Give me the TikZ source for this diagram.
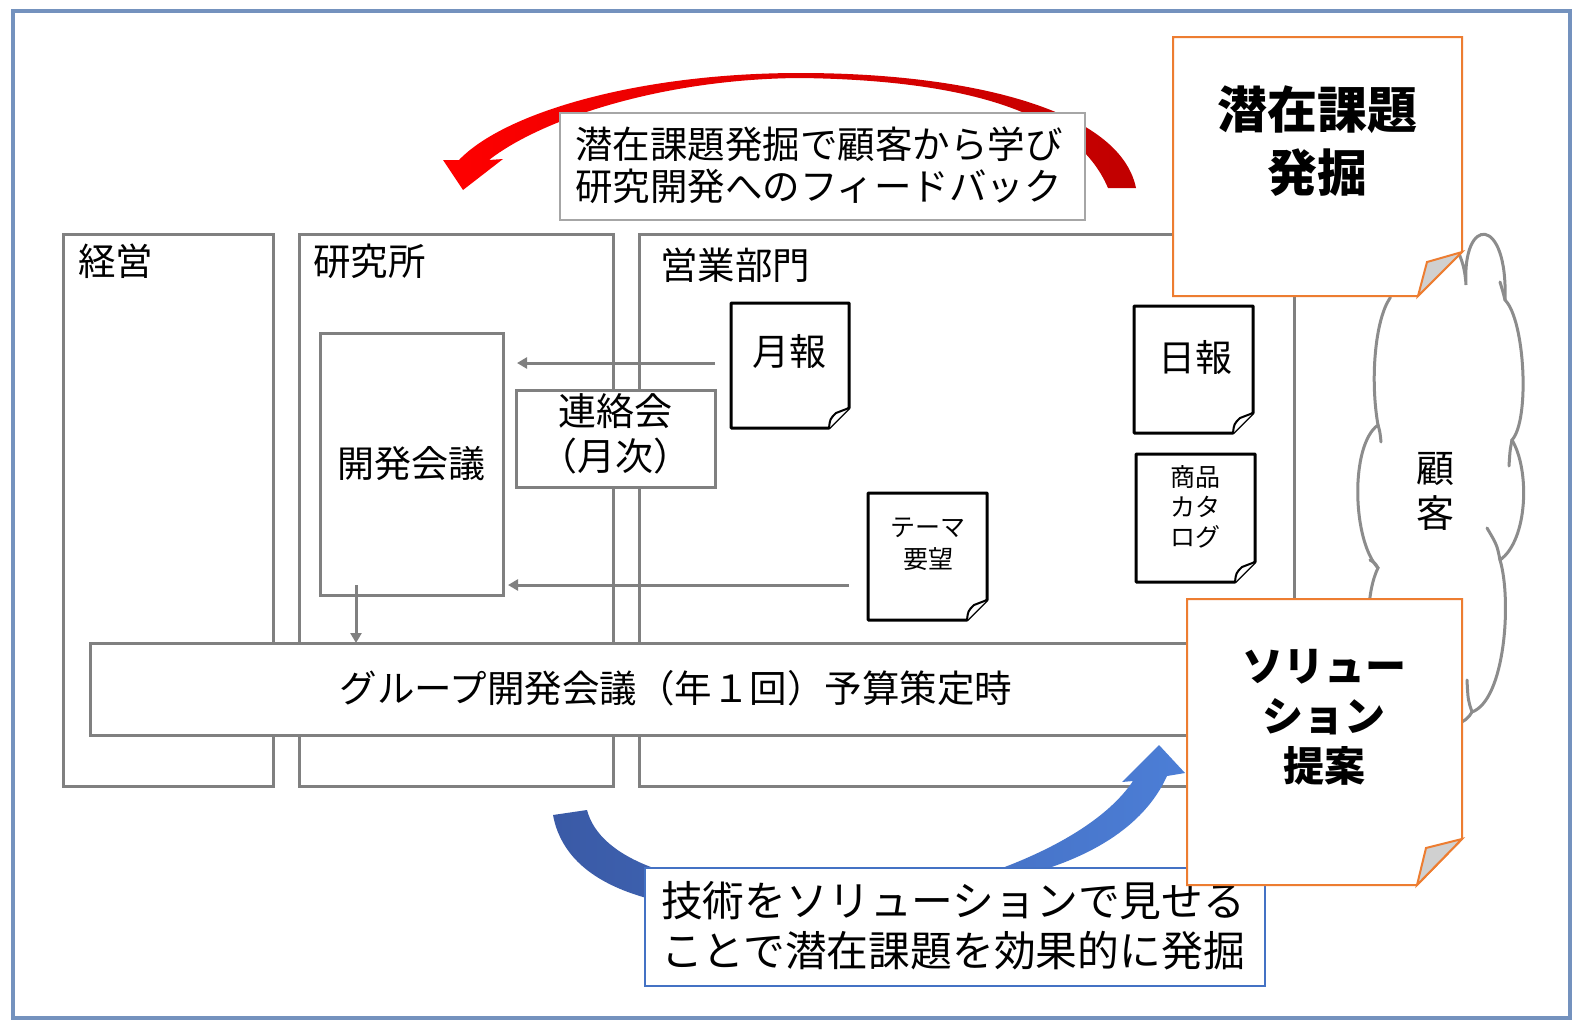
\documentclass[tikz,border=0pt]{standalone}
\usepackage{fontspec}
\newfontfamily\cjk{Noto Sans CJK JP}
\usetikzlibrary{arrows.meta}
\definecolor{boxgray}{RGB}{128,128,128}
\definecolor{framebl}{RGB}{116,146,190}
\definecolor{orangeln}{RGB}{237,125,49}
\definecolor{foldgray}{RGB}{208,208,208}
\definecolor{cloudgray}{RGB}{140,140,140}
\definecolor{redL}{RGB}{255,0,0}
\definecolor{redR}{RGB}{192,0,0}
\definecolor{blueL}{RGB}{58,90,166}
\definecolor{blueR}{RGB}{76,126,214}
\definecolor{bluebox}{RGB}{68,114,196}
\definecolor{lightgrayln}{RGB}{166,166,166}
\newcommand{\setfs}[2]{\fontsize{#1pt}{#2pt}\selectfont}
\newcommand{\docoutline}[1]{%
  \draw[docline, fill=white] (#1.north west) -- (#1.north east) -- ([yshift=20pt]#1.south east) -- ([xshift=-20pt]#1.south east) -- (#1.south west) -- cycle;
  \draw[docline, line width=2pt, fill=white] ([xshift=-20pt]#1.south east) .. controls ([xshift=-19pt,yshift=9pt]#1.south east) .. ([xshift=-13pt,yshift=15pt]#1.south east) -- ([yshift=20pt]#1.south east);
}
\begin{document}
\begin{tikzpicture}[x=1pt,y=-1pt,
  every node/.style={font=\cjk, inner sep=0pt, outer sep=0pt, text=black},
  grayframe/.style={draw=boxgray, line width=3pt, fill=white, rectangle},
  docfill/.style={fill=white, draw=none, rectangle},
  docline/.style={draw=black, line width=3pt, line join=round},
  orangeline/.style={draw=orangeln, line width=2pt, line join=miter},
  grayarrow/.style={draw=boxgray, line width=3pt, -{Triangle[length=10pt,width=11pt]}},
  lbl/.style={anchor=west, font=\cjk\setfs{37.5}{44}},
  cloudline/.style={draw=cloudgray, line width=3pt, line cap=round},
]
\useasboundingbox (0,0) rectangle (1588,1036);
\fill[white] (0,0) rectangle (1588,1036);

% outer frame
\node[draw=framebl, line width=3.5pt, anchor=north west, minimum width=1557pt, minimum height=1007pt] (frame) at (13,11) {};

% big boxes
\node[grayframe, anchor=north west, minimum width=210pt, minimum height=552pt] (keiei) at (63,234) {};
\node[grayframe, anchor=north west, minimum width=314pt, minimum height=552pt] (kenkyu) at (299,234) {};
\node[grayframe, anchor=north west, minimum width=655pt, minimum height=552pt] (eigyo) at (639,234) {};
\node[lbl] (keiei-l) at (78,261) {経営};
\node[lbl] (kenkyu-l) at (313,261) {研究所};
\node[lbl] (eigyo-l) at (660,265) {営業部門};

% development meeting
\node[grayframe, anchor=north west, minimum width=183pt, minimum height=262pt, font=\cjk\setfs{37}{44}] (kaihatsu) at (320,333) {開発会議};

% liaison meeting
\node[grayframe, anchor=north west, minimum width=199pt, minimum height=97pt] (renraku) at (516,390) {};
\node[font=\cjk\setfs{38}{45}, align=center] (renraku-t) at (615,434) {連絡会\\（月次）};

% documents
\node[docfill, anchor=north west, minimum width=118pt, minimum height=125pt] (geppo) at (731,303) {};
\docoutline{geppo}
\node[font=\cjk\setfs{37}{44}] (geppo-t) at (789,351) {月報};

\node[docfill, anchor=north west, minimum width=119pt, minimum height=127pt] (theme) at (868,493) {};
\docoutline{theme}
\node[font=\cjk\setfs{25}{32}, align=center] (theme-t) at (928,544) {テーマ\\要望};

\node[docfill, anchor=north west, minimum width=119pt, minimum height=127pt] (nippo) at (1134,306) {};
\docoutline{nippo}
\node[font=\cjk\setfs{37}{44}] (nippo-t) at (1195,357) {日報};

\node[docfill, anchor=north west, minimum width=119pt, minimum height=128pt] (catalog) at (1136,454) {};
\docoutline{catalog}
\node[font=\cjk\setfs{25}{30}, align=center] (catalog-t) at (1195,507) {商品\\カタ\\ログ};

% gray arrows
\coordinate (a1s) at (715,363);
\draw[grayarrow] (a1s) -- ([xshift=14pt]kaihatsu.east |- a1s);
\coordinate (a2s) at (849,585);
\draw[grayarrow] (a2s) -- ([xshift=5pt]kaihatsu.east |- a2s);

% group bar
\node[grayframe, anchor=north west, minimum width=1100pt, minimum height=92pt] (group) at (90,643) {};
\node[font=\cjk\setfs{37.5}{44}] (group-t) at (676,688) {グループ開発会議（年１回）予算策定時};
\coordinate (a3s) at (356,585);
\draw[grayarrow] (a3s) -- (a3s |- group.north);

% red curved arrow
\shade[left color=redL, right color=redR]
  (1136,188) .. controls (1120,110) and (970,73) .. (800,73)
  .. controls (640,73) and (505,112) .. (459,160)
  -- (443,160) -- (463,190) -- (503,159) -- (489,160)
  .. controls (540,120) and (660,79) .. (800,78)
  .. controls (960,80) and (1075,110) .. (1108,188) -- cycle;
\node[draw=lightgrayln, line width=2pt, fill=white, anchor=north west, minimum width=525pt, minimum height=107pt] (fbbox) at (560,113) {};
\node[anchor=west, align=left, font=\cjk\setfs{37.5}{42}] (fbtext) at (575,165) {潜在課題発掘で顧客から学び\\研究開発へのフィードバック};

% cloud (customers)
\draw[cloudline, fill=white] (1390,298)
  .. controls (1392,215) and (1462,210) .. (1466,285)
  .. controls (1462,215) and (1508,215) .. (1505,300)
  .. controls (1525,320) and (1530,420) .. (1512,440)
  .. controls (1530,470) and (1528,540) .. (1500,560)
  .. controls (1512,600) and (1505,700) .. (1472,712)
  .. controls (1460,735) and (1405,735) .. (1398,690)
  .. controls (1365,680) and (1362,600) .. (1378,568)
  .. controls (1352,540) and (1350,445) .. (1378,425)
  .. controls (1370,380) and (1375,320) .. (1390,298) -- cycle;
\draw[cloudline] (1512,440) .. controls (1510,450) .. (1509,466);
\draw[cloudline] (1500,560) .. controls (1497,545) .. (1487,528);
\draw[cloudline] (1472,712) .. controls (1468,700) .. (1467,680);
\draw[cloudline] (1378,425) .. controls (1380,432) .. (1381,442);
\draw[cloudline] (1378,568) .. controls (1375,563) .. (1370,560);
\draw[cloudline] (1505,300) .. controls (1503,292) .. (1500,282);
\node[font=\cjk\setfs{38}{45}, align=center] (kokyaku) at (1435,491) {顧\\客};

% blue curved arrow
\shade[left color=blueL, right color=blueR]
  (553,815) .. controls (565,880) and (640,910) .. (760,912)
  .. controls (900,912) and (1080,860) .. (1133,781)
  -- (1122,782) -- (1159,745) -- (1185,773) -- (1167,776)
  .. controls (1120,880) and (940,905) .. (780,888)
  .. controls (680,886) and (600,860) .. (587,810) -- cycle;
\node[draw=bluebox, line width=2pt, fill=white, anchor=north west, minimum width=620pt, minimum height=118pt] (solbox) at (645,868) {};
\node[anchor=west, align=left, font=\cjk\setfs{41.8}{50}] (soltext) at (661,926) {技術をソリューションで見せる\\ことで潜在課題を効果的に発掘};

% orange box 1
\node[anchor=north west, minimum width=289pt, minimum height=259pt] (hakkutsu) at (1173,37) {};
\draw[orangeline, fill=white] (hakkutsu.north west) -- (hakkutsu.north east) -- ([yshift=44pt]hakkutsu.south east) -- ([xshift=-44pt]hakkutsu.south east) -- (hakkutsu.south west) -- cycle;
\draw[orangeline, fill=foldgray] ([xshift=-44pt]hakkutsu.south east) -- ([xshift=-35pt,yshift=34pt]hakkutsu.south east) -- ([yshift=44pt]hakkutsu.south east) -- cycle;
\node[font=\cjk\bfseries\setfs{50}{63}, align=center] (hakkutsu-t) at (1317,141) {潜在課題\\発掘};

% orange box 2
\node[anchor=north west, minimum width=275pt, minimum height=286pt] (teian) at (1187,599) {};
\draw[orangeline, fill=white] (teian.north west) -- (teian.north east) -- ([yshift=46pt]teian.south east) -- ([xshift=-45pt]teian.south east) -- (teian.south west) -- cycle;
\draw[orangeline, fill=foldgray] ([xshift=-45pt]teian.south east) -- ([xshift=-36pt,yshift=37pt]teian.south east) -- ([yshift=46pt]teian.south east) -- cycle;
\node[font=\cjk\bfseries\setfs{41}{50}, align=center] (teian-t) at (1324,717) {ソリュー\\ション\\提案};
\end{tikzpicture}
\end{document}
